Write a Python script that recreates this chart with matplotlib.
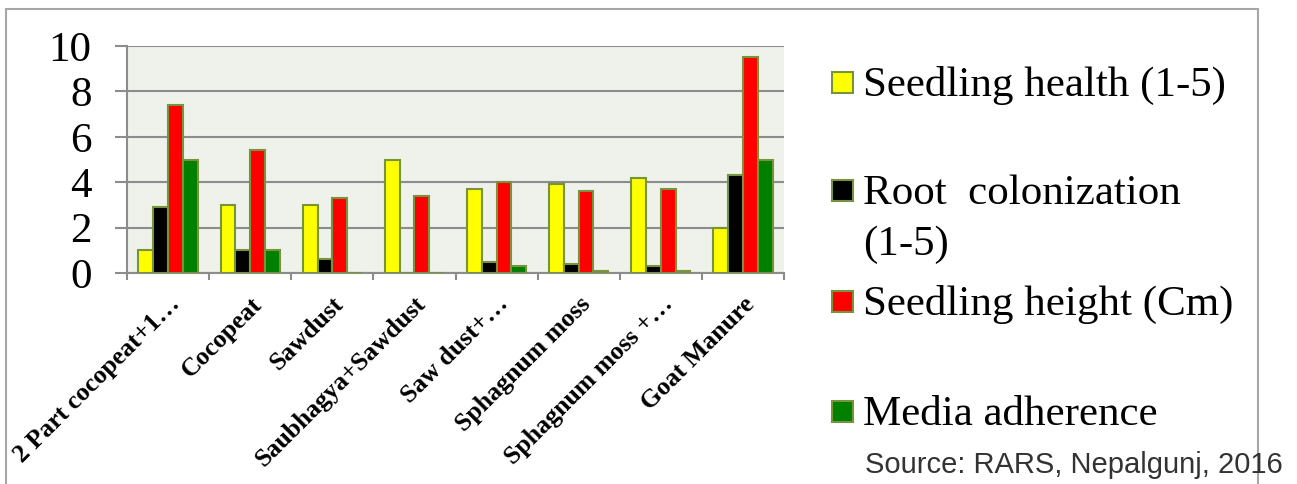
import matplotlib.pyplot as plt
from matplotlib.patches import Rectangle
import numpy as np

media = ['2 Part cocopeat+1…', 'Cocopeat', 'Sawdust', 'Saubhagya+Sawdust',
         'Saw dust+…', 'Sphagnum moss', 'Sphagnum moss +…', 'Goat Manure']
health = [1.0, 3.0, 3.0, 5.0, 3.7, 3.9, 4.2, 2.0]
root = [2.9, 1.0, 0.6, 0.0, 0.5, 0.4, 0.3, 4.3]
height = [7.4, 5.4, 3.3, 3.4, 4.0, 3.6, 3.7, 9.5]
adherence = [5.0, 1.0, 0.0, 0.0, 0.3, 0.1, 0.1, 5.0]

series = [health, root, height, adherence]
names = ['Seedling health (1-5)', 'Root  colonization\n(1-5)',
         'Seedling height (Cm)', 'Media adherence']
colors = ['#FFFF00', '#000000', '#FF0000', '#008000']
edge = '#77933C'
grey = '#8C8C8C'
serif = 'Liberation Serif'

fig = plt.figure(figsize=(12.97, 4.84), dpi=100)

# outer frame
fig.patches.append(Rectangle((6/1297, -0.05), 1251.5/1297, 1.05 - 9/484,
                             transform=fig.transFigure, fill=False,
                             ec='#A6A6A6', lw=1.5))

ax = fig.add_axes([127/1297, 1 - 273/484, 657/1297, 227/484])
ax.set_facecolor('#EFF2EA')

x = np.arange(len(media))
w = 0.18
for i, (vals, c) in enumerate(zip(series, colors)):
    ax.bar(x + (i - 1.5) * w, vals, w, color=c, edgecolor=edge, lw=1.5, zorder=3)

ax.set_xlim(-0.5, len(media) - 0.5)
ax.set_ylim(0, 10)
ax.set_yticks(range(0, 11, 2))
ax.yaxis.grid(True, color=grey, lw=1.5, zorder=0)
ax.set_axisbelow(True)
for s in ['top', 'right']:
    ax.spines[s].set_visible(False)
for s in ['left', 'bottom']:
    ax.spines[s].set_color(grey)
    ax.spines[s].set_linewidth(1.5)

ax.tick_params(axis='y', length=8.6, width=1.5, color=grey, pad=17,
               labelsize=31)
for t in ax.get_yticklabels():
    t.set_fontfamily(serif)

ax.set_xticks(x)
ax.set_xticks(np.arange(-0.5, len(media)), minor=True)
ax.tick_params(axis='x', which='major', length=0, pad=14)
ax.tick_params(axis='x', which='minor', length=5, width=1.5, color=grey)
ax.set_xticklabels(media, rotation=45, ha='right', rotation_mode='anchor',
                   fontsize=18.5, fontweight='bold', fontfamily=serif)

# legend drawn beside the plot
tops = [96, 204, 315, 425]
for name, c, b in zip(names, colors, tops):
    fig.patches.append(Rectangle((832/1297, 1 - (b - 3)/484), 21/1297, 21/484,
                                 transform=fig.transFigure, fc=c, ec=edge, lw=1.5))
    first, *rest = name.split('\n')
    fig.text(863/1297, 1 - b/484, first, fontsize=31, fontfamily=serif,
             va='baseline', ha='left')
    if rest:
        fig.text(863/1297, 1 - (b + 51)/484, rest[0], fontsize=31,
                 fontfamily=serif, va='baseline', ha='left')

fig.text(865/1297, 1 - 473/484, 'Source: RARS, Nepalgunj, 2016', fontsize=21,
         fontfamily='Liberation Sans', color='#333333', va='baseline', ha='left')

fig.savefig('out.png', dpi=100)
